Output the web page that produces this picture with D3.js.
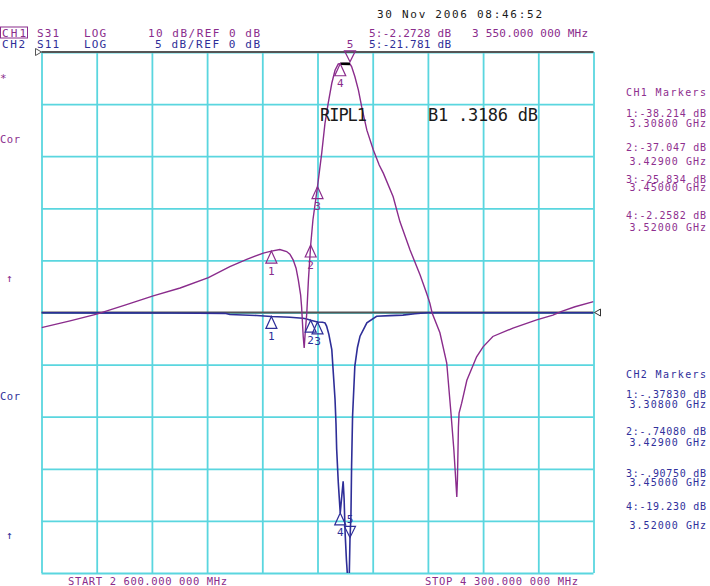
<!DOCTYPE html>
<html>
<head>
<meta charset="utf-8">
<script src="https://cdn.jsdelivr.net/npm/d3@7/dist/d3.min.js"></script>
<style>
  html, body { margin: 0; padding: 0; background: #ffffff; }
  svg { display: block; }
  text { font-family: "DejaVu Sans Mono", "Liberation Mono", monospace; }
</style>
</head>
<body>
<svg id="chart" width="710" height="586"></svg>
<script>
// ---- Sweep settings ----
const startGHz = 2.6;
const stopGHz = 4.3;
const gridFreq = [2.6, 2.77, 2.94, 3.11, 3.28, 3.45, 3.62, 3.79, 3.96, 4.13, 4.3];
const ch1GridDb = [0, -10, -20, -30, -40, -50, -60, -70, -80, -90, -100];

// ---- CH1: S31, 10 dB/div, ref 0 dB at top ----
const ch1Trace = [
  [2.600, -52.9], [2.688, -51.6], [2.770, -50.3], [2.857, -48.6], [2.944, -46.8],
  [3.027, -45.3], [3.114, -43.3], [3.180, -41.2], [3.232, -39.8], [3.283, -38.6],
  [3.308, -38.214], [3.334, -37.9], [3.355, -38.3], [3.365, -38.8], [3.375, -39.9],
  [3.384, -41.5], [3.391, -43.8], [3.398, -46.6], [3.401, -48.9], [3.406, -54.6],
  [3.409, -56.8], [3.412, -54.0], [3.417, -50.1], [3.422, -43.8], [3.429, -37.047],
  [3.436, -32.2], [3.450, -25.834], [3.463, -19.4], [3.473, -13.7], [3.483, -9.8],
  [3.494, -6.0], [3.504, -3.5], [3.514, -2.3], [3.520, -2.2582], [3.529, -2.2],
  [3.540, -2.2], [3.550, -2.2728], [3.555, -2.8], [3.565, -4.7], [3.576, -7.3],
  [3.586, -10.5], [3.602, -15.0], [3.622, -18.8], [3.640, -21.7], [3.653, -23.3],
  [3.683, -27.8], [3.704, -32.6], [3.735, -38.0], [3.766, -42.8], [3.786, -46.3],
  [3.796, -48.2], [3.803, -50.1], [3.827, -53.9], [3.848, -59.7], [3.861, -69.3],
  [3.870, -76.4], [3.879, -85.4], [3.881, -82.0], [3.884, -72.0], [3.886, -69.3],
  [3.894, -67.4], [3.910, -63.0], [3.940, -58.5], [3.960, -56.6], [3.990, -54.6],
  [4.052, -53.0], [4.125, -51.4], [4.175, -50.5], [4.202, -49.8], [4.243, -48.9],
  [4.300, -47.9]
];

// ---- CH2: S11, 5 dB/div, ref 0 dB at centre ----
const ch2Trace = [
  [2.600, -0.03], [2.800, -0.04], [3.000, -0.05], [3.165, -0.08], [3.180, -0.19],
  [3.263, -0.29], [3.308, -0.3783], [3.365, -0.45], [3.405, -0.55], [3.414, -0.60],
  [3.429, -0.7408], [3.450, -0.9075], [3.465, -0.93], [3.473, -0.99], [3.478, -1.31],
  [3.485, -2.1], [3.494, -3.55], [3.499, -5.95], [3.504, -8.35], [3.507, -10.7],
  [3.509, -13.1], [3.514, -16.3], [3.520, -19.23], [3.524, -17.9], [3.529, -16.2],
  [3.532, -17.9], [3.535, -21.1], [3.539, -23.7], [3.545, -26.5], [3.548, -25.0],
  [3.550, -21.781], [3.553, -19.5], [3.555, -14.75], [3.558, -9.95], [3.565, -5.15],
  [3.573, -3.36], [3.581, -2.27], [3.602, -0.99], [3.632, -0.36], [3.673, -0.30],
  [3.713, -0.25], [3.750, -0.12], [3.787, -0.03], [4.300, -0.03]
];

// ---- Markers ----
const markerIds = [1, 2, 3, 4, 5];
const markerGHz = [3.308, 3.429, 3.45, 3.52, 3.55];
const ch1MarkerDb = [-38.214, -37.047, -25.834, -2.2582, -2.2728];
const ch2MarkerDb = [-0.3783, -0.7408, -0.9075, -19.23, -21.781];
const ripple = ".3186";

// ---- Layout ----
const W = 710, H = 586;
const P = { l: 41.5, r: 593.5, t: 52, b: 573 };
const C = {
  grid: "#5ad6df", ref: "#555555", ch1: "#8a2c8c", ch2: "#2e2e98",
  ch1Text: "#8e2f8f", ch2Text: "#30309c", ink: "#1a1a1a"
};

const svg = d3.select("#chart");
const x = d3.scaleLinear().domain([startGHz, stopGHz]).range([P.l, P.r]);
const y1 = d3.scaleLinear().domain([-100, 0]).range([P.b, P.t]);
const y2 = d3.scaleLinear().domain([-25, 25]).range([P.b, P.t]);

// ---- Graticule (drawn with axes, labels suppressed) ----
const gx = svg.append("g")
  .attr("transform", `translate(0,${P.b})`)
  .call(d3.axisBottom(x).tickValues(gridFreq).tickSizeInner(-(P.b - P.t)).tickSizeOuter(0).tickFormat(""));
const gy = svg.append("g")
  .attr("transform", `translate(${P.l},0)`)
  .call(d3.axisLeft(y1).tickValues(ch1GridDb).tickSizeInner(-(P.r - P.l)).tickSizeOuter(0).tickFormat(""));
[gx, gy].forEach(g => {
  g.select(".domain").remove();
  g.selectAll(".tick line").attr("stroke", C.grid).attr("stroke-width", 1.8);
});

// ---- Reference lines ----
svg.append("line")
  .attr("x1", P.l).attr("x2", P.r).attr("y1", y1(0)).attr("y2", y1(0))
  .attr("stroke", C.ref).attr("stroke-width", 2);
svg.append("line")
  .attr("x1", P.l).attr("x2", P.r).attr("y1", y2(0)).attr("y2", y2(0))
  .attr("stroke", C.ref).attr("stroke-width", 2);
// reference position pointers
svg.append("path")
  .attr("d", `M${P.l - 6},${y1(0) - 3.5} L${P.l},${y1(0)} L${P.l - 6},${y1(0) + 3.5} Z`)
  .attr("fill", "#fff").attr("stroke", C.ref).attr("stroke-width", 1);
svg.append("path")
  .attr("d", `M${P.r + 7},${y2(0) - 3.5} L${P.r + 1},${y2(0)} L${P.r + 7},${y2(0) + 3.5} Z`)
  .attr("fill", "#fff").attr("stroke", "#333").attr("stroke-width", 1);

// ---- Traces ----
svg.append("clipPath").attr("id", "plotClip")
  .append("rect").attr("x", P.l).attr("y", P.t - 1).attr("width", P.r - P.l).attr("height", P.b - P.t + 1);

const line1 = d3.line().x(d => x(d[0])).y(d => y1(d[1]));
const line2 = d3.line().x(d => x(d[0])).y(d => y2(d[1]));

svg.append("path").datum(ch2Trace)
  .attr("d", line2).attr("fill", "none")
  .attr("stroke", C.ch2).attr("stroke-width", 1.6)
  .attr("clip-path", "url(#plotClip)");
svg.append("path").datum(ch1Trace)
  .attr("d", line1).attr("fill", "none")
  .attr("stroke", C.ch1).attr("stroke-width", 1.4)
  .attr("clip-path", "url(#plotClip)");

// ripple band between markers 4 and 5
svg.append("line")
  .attr("x1", x(markerGHz[3])).attr("x2", x(markerGHz[4]))
  .attr("y1", y1(ch1MarkerDb[3])).attr("y2", y1(ch1MarkerDb[4]))
  .attr("stroke", "#000").attr("stroke-width", 2.6);

// ---- Marker glyphs ----
function drawMarkers(dbs, yScale, color) {
  markerIds.forEach((id, i) => {
    const mx = x(markerGHz[i]);
    const my = yScale(dbs[i]);
    const active = id === 5;
    const g = svg.append("g").attr("transform", `translate(${mx},${my})`);
    if (active) {
      g.append("path").attr("d", "M0,-2 L-5.5,-13 L5.5,-13 Z")
        .attr("fill", "none").attr("stroke", color).attr("stroke-width", 1.2);
      g.append("text").attr("x", 0).attr("y", -16).attr("text-anchor", "middle")
        .attr("font-size", 11).attr("fill", color).text(id);
    } else {
      g.append("path").attr("d", "M0,0 L5.5,12 L-5.5,12 Z")
        .attr("fill", "none").attr("stroke", color).attr("stroke-width", 1.2);
      g.append("text").attr("x", 0).attr("y", 23.5).attr("text-anchor", "middle")
        .attr("font-size", 11).attr("fill", color).text(id);
    }
  });
}
drawMarkers(ch2MarkerDb, y2, C.ch2);
drawMarkers(ch1MarkerDb, y1, C.ch1);

// ---- Text helpers ----
function label(t, tx, ty, w, color, size, anchor) {
  const el = svg.append("text")
    .attr("x", tx).attr("y", ty)
    .attr("font-size", size || 10)
    .attr("fill", color)
    .attr("text-anchor", anchor || "start")
    .text(t);
  if (w) el.attr("textLength", w).attr("lengthAdjust", "spacing");
  return el;
}
const dbText = v => v.toPrecision(5).replace("-0.", "-.");
const ghzText = v => v.toFixed(5) + " GHz";
const mhzText = ghz => {
  const s = (ghz * 1000).toFixed(6);           // e.g. 3550.000000
  const [ip, fp] = s.split(".");
  const ig = ip.length > 3 ? ip.slice(0, ip.length - 3) + " " + ip.slice(-3) : ip;
  return ig + "." + fp.slice(0, 3) + " " + fp.slice(3) + " MHz";
};

// ---- Header ----
label("30 Nov 2006  08:46:52", 377, 17.5, 165, C.ink, 11);

svg.append("rect").attr("x", 0.5).attr("y", 27).attr("width", 27).attr("height", 11)
  .attr("fill", "none").attr("stroke", C.ch1).attr("stroke-width", 1);
label("CH1", 2, 36.7, 24, C.ch1, 11);
label("S31", 37, 36.7, 22, C.ch1, 11);
label("LOG", 84, 36.7, 22, C.ch1, 11);
label("10 dB/REF 0 dB", 148, 36.7, 112, C.ch1, 11);
label("CH2", 2, 48.3, 23, C.ch2, 11);
label("S11", 37, 48.3, 22, C.ch2, 11);
label("LOG", 84, 48.3, 22, C.ch2, 11);
label("5 dB/REF 0 dB", 155, 48.3, 105, C.ch2, 11);

label("5:" + dbText(ch1MarkerDb[4]) + " dB", 369, 36.5, 82, C.ch1, 11);
label(mhzText(markerGHz[4]), 472, 36.5, 116, C.ch1, 11);
label("5:" + dbText(ch2MarkerDb[4]) + " dB", 369, 48, 82, C.ch2, 11);

// ---- Ripple readout ----
svg.append("text").attr("x", 320).attr("y", 120.5)
  .attr("font-family", "Liberation Sans, Arial, sans-serif").attr("font-size", 17)
  .attr("fill", C.ink).attr("textLength", 47).attr("lengthAdjust", "spacing").text("RIPL1");
svg.append("text").attr("x", 428).attr("y", 120.5)
  .attr("font-family", "Liberation Sans, Arial, sans-serif").attr("font-size", 17)
  .attr("fill", C.ink).attr("textLength", 110).attr("lengthAdjust", "spacing").text("B1  " + ripple + " dB");

// ---- Marker tables ----
label("CH1 Markers", 626, 95.5, 80, C.ch1Text);
const ch1Rows = [[117.3, 127.3], [150.7, 164.7], [183.3, 191.3], [219, 230.7]];
ch1Rows.forEach((r, i) => {
  label((i + 1) + ":" + dbText(ch1MarkerDb[i]) + " dB", 626, r[0], 80, C.ch1Text);
  label(ghzText(markerGHz[i]), 629.5, r[1], 76.5, C.ch1Text);
});
label("CH2 Markers", 626, 378, 80, C.ch2Text);
const ch2Rows = [[398, 408.3], [434.7, 445.7], [477.3, 485.7], [509.7, 529]];
ch2Rows.forEach((r, i) => {
  label((i + 1) + ":" + dbText(ch2MarkerDb[i]) + " dB", 626, r[0], 80, C.ch2Text);
  label(ghzText(markerGHz[i]), 629.5, r[1], 76.5, C.ch2Text);
});

// ---- Left-side annotations ----
label("*", 0, 82, null, C.ch1, 11);
label("Cor", 0, 143, 20, C.ch1, 10.5);
label("\u2191", 6, 282, null, C.ch1, 11);
label("Cor", 0, 400, 20, C.ch2, 10.5);
label("\u2191", 6, 539, null, C.ch2, 11);

// ---- Sweep limits ----
label("START " + mhzText(startGHz), 68, 585, 159, C.ch1, 10.5);
label("STOP " + mhzText(stopGHz), 425, 585, 153, C.ch1, 10.5);
</script>
</body>
</html>
